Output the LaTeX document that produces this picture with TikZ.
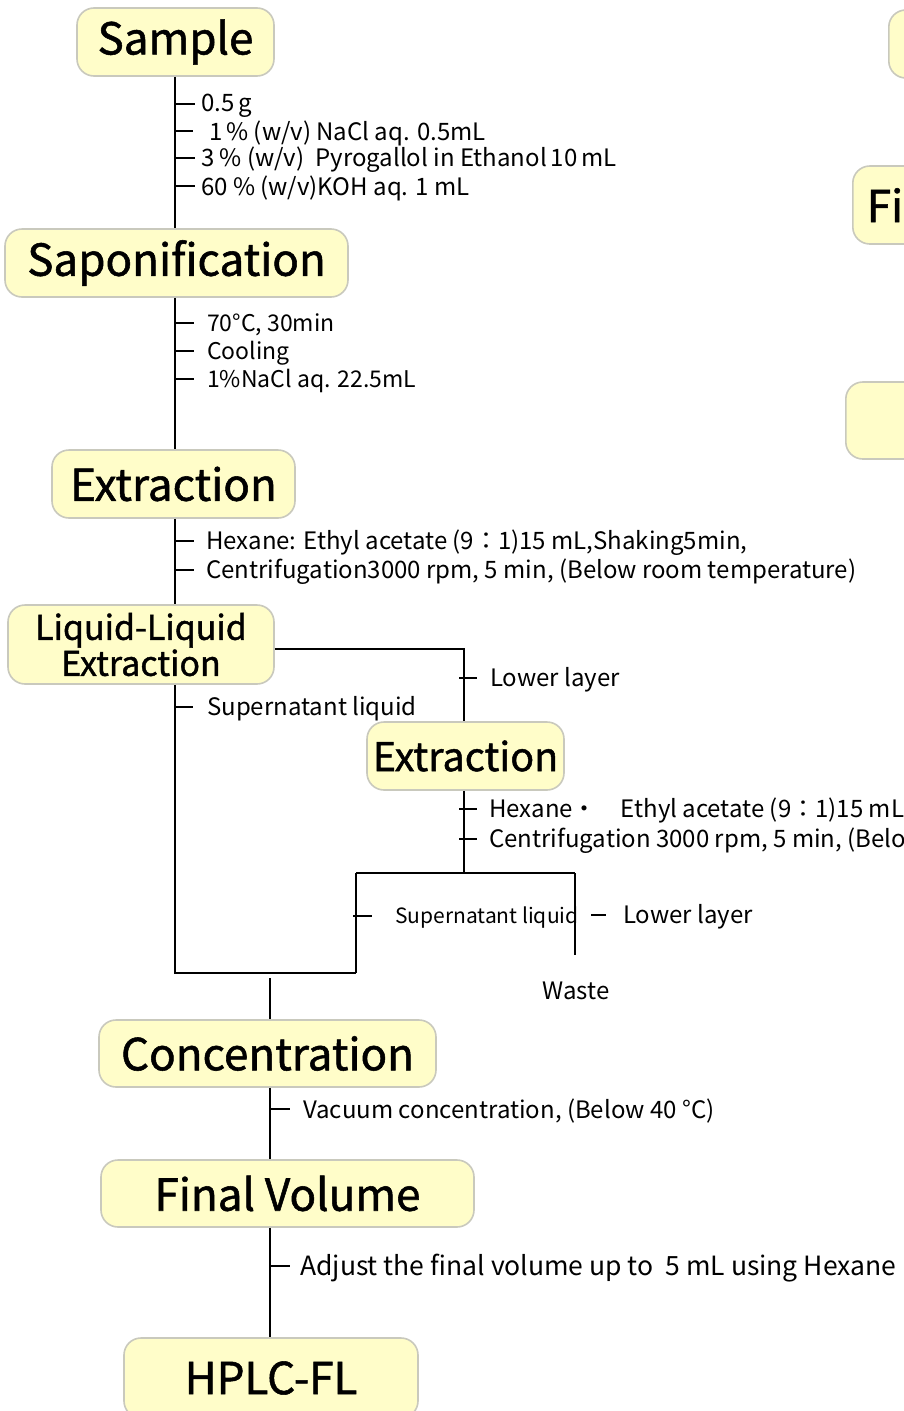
\documentclass[tikz,border=0pt]{standalone}
\usepackage{fontspec}
\setmainfont{Noto Sans CJK JP}
\newfontfamily\titlefont[FakeBold=1.2]{Noto Sans CJK JP}
\definecolor{boxfill}{HTML}{FFFDC9}
\definecolor{boxedge}{HTML}{C9C9BD}
\tikzset{
  box/.style={draw=boxedge, fill=boxfill, line width=1.6pt, rounded corners=17pt, inner sep=0pt, align=center},
  conn/.style={line width=1.3pt, black},
  tick/.style={line width=1.1pt, black},
  lab/.style={anchor=west, inner sep=0pt, font=\fontsize{24}{24}\selectfont},
  big/.style={font=\fontsize{44}{44}\titlefont},
}
\begin{document}
\begin{tikzpicture}[x=1pt,y=-1pt]
\useasboundingbox (0,0) rectangle (904,1411);
\clip (0,0) rectangle (904,1411);
% main boxes
\node[box, big, minimum width=197, minimum height=68] (sample) at (175.5,42) {Sample};
\node[box, big, minimum width=343, minimum height=68] (sapon) at (176.5,263) {Saponification};
\node[box, big, minimum width=243, minimum height=68] (ext1) at (173.5,484) {Extraction};
\node[box, font=\fontsize{34}{36}\titlefont, minimum width=266, minimum height=79] (ll) at (141,644.5) {Liquid-Liquid\\Extraction};
\node[box, font=\fontsize{39.5}{40}\titlefont, minimum width=197, minimum height=68] (ext2) at (465.5,756) {Extraction};
\node[box, big, minimum width=337, minimum height=67] (conc) at (267.5,1053.5) {Concentration};
\node[box, big, minimum width=373, minimum height=67] (final) at (287.5,1193.5) {Final Volume};
\node[box, big, minimum width=294, minimum height=80] (hplc) at (271,1378) {HPLC-FL};
% partial boxes on right edge
\node[box, big, minimum width=200, minimum height=68, anchor=west] (r1) at (888,44) {};
\node[box, big, minimum width=200, minimum height=78, anchor=west, text width=190, align=left] (r2) at (852,205) {\hspace*{9pt}Final};
\node[box, big, minimum width=200, minimum height=77, anchor=west] (r3) at (845,420.5) {};
% coordinates
\coordinate (sl) at (356,873);
\coordinate (sr) at (575,873);
\coordinate (slb) at (356,973);
\coordinate (srb) at (575,955);
\coordinate (mb) at (175,973);
\coordinate (mid) at (270,978);
% connectors
\draw[conn] (sample.south -| 175,0) -- (sapon.north -| 175,0);
\draw[conn] (sapon.south -| 175,0) -- (ext1.north -| 175,0);
\draw[conn] (ext1.south -| 175,0) -- (ll.north -| 175,0);
\draw[conn] (ll.east |- 0,649) -- (464,649) -- (ext2.north -| 464,0);
\draw[conn] (ext2.south -| 464,0) -- (464,873);
\draw[conn] (sl) -- (sr);
\draw[conn] (sl) -- (slb);
\draw[conn] (sr) -- (srb);
\draw[conn] (ll.south -| 175,0) -- (mb) -- (slb);
\draw[conn] (mid) -- (conc.north -| mid);
\draw[conn] (conc.south -| mid) -- (final.north -| mid);
\draw[conn] (final.south -| mid) -- (hplc.north -| mid);
% sample labels
\draw[tick] (175,104) -- (195,104); \node[lab] (s1) at (201,106) {0.5\,g};
\draw[tick] (175,131) -- (193,131); \node[lab] (s2) at (209,133) {1\,\% (w/v) NaCl aq. 0.5mL};
\draw[tick] (175,158) -- (195,158); \node[lab] (s3) at (201,160) {3 \% (w/v)\ \ Pyrogallol in Ethanol\,10\,mL};
\draw[tick] (175,186) -- (195,186); \node[lab] (s4) at (201,188) {60 \% (w/v)KOH aq. 1 mL};
% saponification labels
\draw[tick] (175,323) -- (194,323); \node[lab, font=\fontsize{23}{23}\selectfont] (p1) at (207,325) {70°C, 30min};
\draw[tick] (175,351) -- (194,351); \node[lab, font=\fontsize{23}{23}\selectfont] (p2) at (207,353) {Cooling};
\draw[tick] (175,379) -- (194,379); \node[lab, font=\fontsize{23}{23}\selectfont] (p3) at (207,381) {1\%NaCl aq. 22.5mL};
% extraction labels
\draw[tick] (175,541) -- (194,541); \node[lab] (e1) at (206,543) {Hexane: Ethyl acetate (9：1)15 mL,Shaking5min,};
\draw[tick] (175,570) -- (194,570); \node[lab] (e2) at (206,572) {Centrifugation3000 rpm, 5 min, (Below room temperature)};
% LL labels
\draw[tick] (459,678) -- (477,678); \node[lab] (l1) at (490,680) {Lower layer};
\draw[tick] (175,707) -- (193,707); \node[lab] (l2) at (207,709) {Supernatant liquid};
% extraction 2 labels
\draw[tick] (459,809) -- (477,809); \node[lab] (x1) at (489,811) {Hexane・　Ethyl acetate (9：1)15 mL, Shaking 5 min,};
\draw[tick] (459,839) -- (477,839); \node[lab] (x2) at (489,841) {Centrifugation 3000 rpm, 5 min, (Below room temperature)};
% bottom labels
\draw[tick] (353,916) -- (372,916); \node[lab, font=\fontsize{21}{21}\selectfont] (b1) at (395,918) {Supernatant liquid};
\draw[tick] (591,915) -- (606,915); \node[lab] (b2) at (623,917) {Lower layer};
\node[lab, anchor=center] (w) at (576,991) {Waste};
% concentration / final labels
\draw[tick] (270,1109) -- (290,1109); \node[lab] (c1) at (303,1111) {Vacuum concentration, (Below 40 °C)};
\draw[tick] (270,1266) -- (290,1266); \node[lab, font=\fontsize{26.5}{26.5}\selectfont] (f1) at (300,1268) {Adjust the final volume up to\ \ 5 mL using Hexane};
\end{tikzpicture}
\end{document}
